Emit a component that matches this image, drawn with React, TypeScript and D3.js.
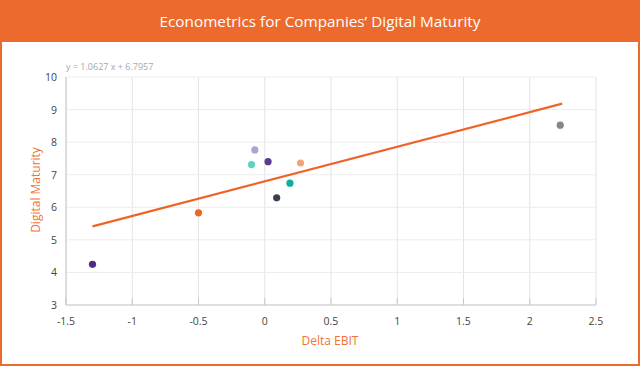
import React from "react";
import * as d3 from "d3";

const xValues = [-1.3, -0.5, -0.1, -0.075, 0.025, 0.27, 0.19, 0.09, 2.23];
const yValues = [4.25, 5.83, 7.31, 7.76, 7.4, 7.36, 6.74, 6.29, 8.52];
const pointColors = ["#4d2a88", "#f06424", "#5dd3c2", "#b0a3d4", "#5a3b93", "#f5a27a", "#10ad9f", "#38424f", "#7f8991"];
const xTicks = [-1.5, -1, -0.5, 0, 0.5, 1, 1.5, 2, 2.5];
const yTicks = [3, 4, 5, 6, 7, 8, 9, 10];
const slope = 1.0627;
const intercept = 6.7957;
const trendRange = [-1.3, 2.245];
const title = "Econometrics for Companies\u2019 Digital Maturity";

export default function App() {
  const W = 640, H = 366;
  const x = d3.scaleLinear().domain([-1.5, 2.5]).range([66, 596]);
  const y = d3.scaleLinear().domain([3, 10]).range([305, 77]);
  const line = d3.line<number>().x(d => x(d)).y(d => y(slope * d + intercept));
  const font = "'Open Sans', sans-serif";
  const orange = "#ec6a2e";
  return (
    <div style={{ position: "fixed", left: 0, top: 0 }}>
      <svg width={W} height={H} style={{ display: "block" }}>
        <rect x={0} y={0} width={W} height={H} fill={orange} />
        <rect x={2} y={42} width={W - 4} height={H - 44} fill="#ffffff" />
        <text x={W / 2} y={27} textAnchor="middle" fill="#ffffff" fontFamily={font} fontSize={15.3}>{title}</text>
        {xTicks.map(t => (
          <line key={"gx" + t} x1={x(t)} x2={x(t)} y1={y(10)} y2={y(3)} stroke="#e4e4e4" strokeWidth={1} />
        ))}
        {yTicks.map(t => (
          <line key={"gy" + t} x1={x(-1.5)} x2={x(2.5)} y1={y(t)} y2={y(t)} stroke="#ececec" strokeWidth={1} />
        ))}
        <line x1={x(-1.5)} x2={x(-1.5)} y1={y(10)} y2={y(3)} stroke="#c8c8c8" strokeWidth={1} />
        <line x1={x(-1.5)} x2={x(2.5)} y1={y(3)} y2={y(3)} stroke="#c8c8c8" strokeWidth={1} />
        {xTicks.map(t => (
          <g key={"tx" + t}>
            <line x1={x(t)} x2={x(t)} y1={y(3)} y2={y(3) - 7} stroke="#c8c8c8" strokeWidth={1} />
            <text x={x(t)} y={325} textAnchor="middle" fill="#444" fontFamily={font} fontSize={10.5}>{String(t)}</text>
          </g>
        ))}
        {yTicks.map(t => (
          <text key={"ty" + t} x={57} y={y(t) + 4} textAnchor="end" fill="#444" fontFamily={font} fontSize={10.5}>{String(t)}</text>
        ))}
        <text x={66} y={70} fill="#a8a8a8" fontFamily={font} fontSize={9}>{`y = ${slope} x + ${intercept}`}</text>
        <path d={line(trendRange) || ""} stroke="#ee6428" strokeWidth={2.2} fill="none" />
        {xValues.map((v, i) => (
          <circle key={"p" + i} cx={x(v)} cy={y(yValues[i])} r={3.6} fill={pointColors[i]} />
        ))}
        <text x={330} y={345} textAnchor="middle" fill="#f07434" fontFamily={font} fontSize={12}>Delta EBIT</text>
        <text transform={`translate(40,190) rotate(-90)`} textAnchor="middle" fill="#f07434" fontFamily={font} fontSize={12}>Digital Maturity</text>
      </svg>
    </div>
  );
}
